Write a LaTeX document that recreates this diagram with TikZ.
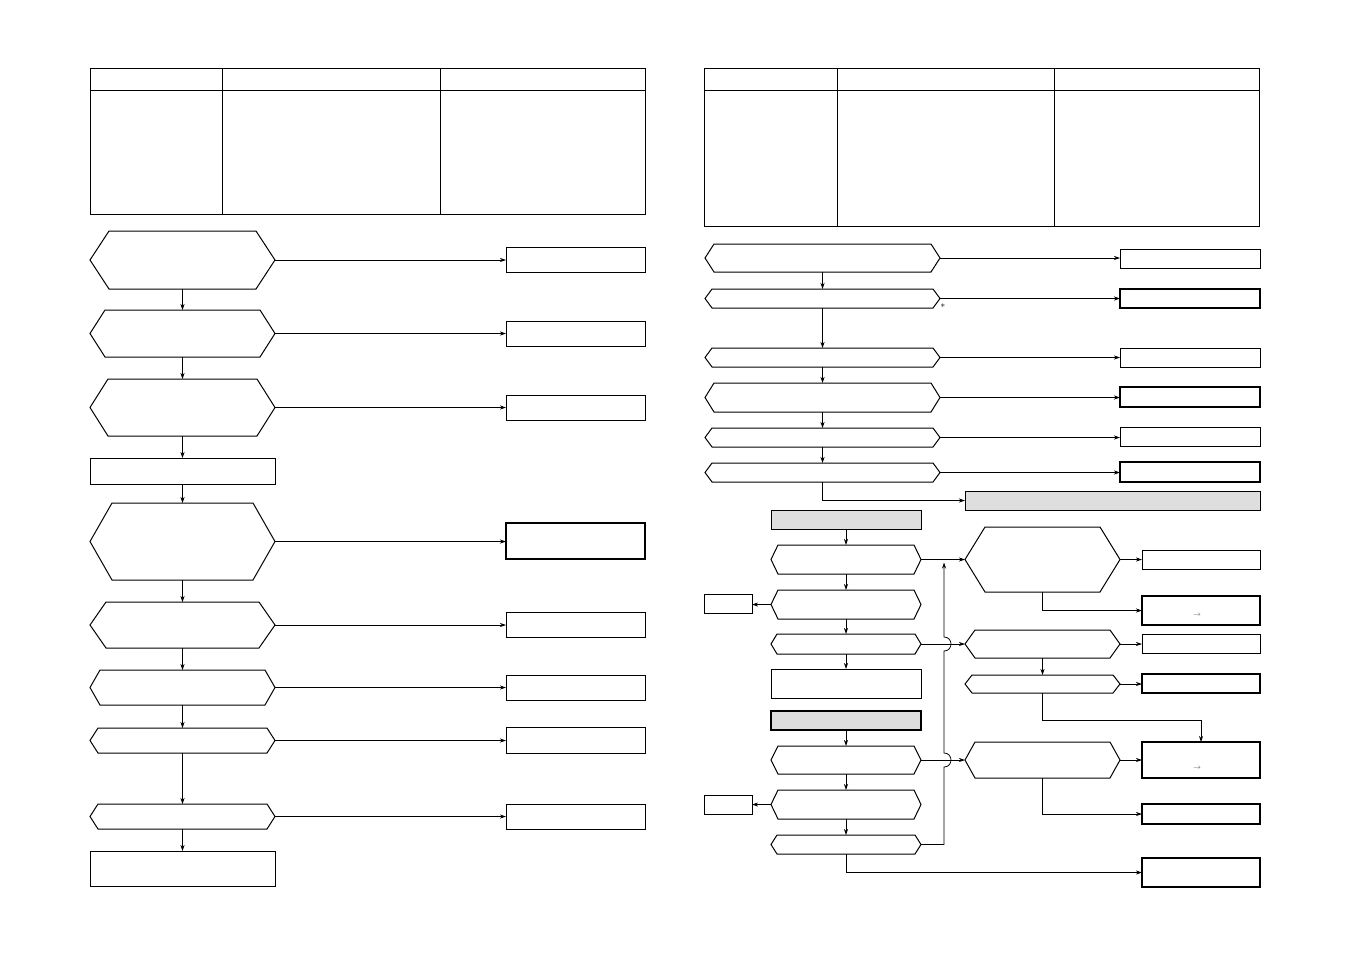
\documentclass[tikz,border=0pt]{standalone}
\usetikzlibrary{arrows.meta,calc}
\tikzset{
  shapeline/.style={line width=1.0pt},
  conn/.style={line width=0.75pt,-{Stealth[length=6pt,width=4pt]}},
  anchorbox/.style={rectangle,inner sep=0pt,outer sep=0pt},
  boxx/.style={rectangle,draw,line width=0.9pt,inner sep=0pt,outer sep=0pt},
  thickbox/.style={boxx,line width=2pt},
  midbox/.style={boxx,line width=1.4pt},
  graybox/.style={boxx,fill=black!13},
  tabline/.style={line width=1.0pt}
}
\newcommand{\hexa}[6]{%
  \draw[shapeline] (#2,{(#3+#5)/2}) -- ({#2+#6},#3) -- ({#4-#6},#3) -- (#4,{(#3+#5)/2}) -- ({#4-#6},#5) -- ({#2+#6},#5) -- cycle;
  \node[anchorbox,minimum width={(#4-#2)*1pt},minimum height={(#5-#3)*1pt}] (#1) at ({(#2+#4)/2},{(#3+#5)/2}) {};
}
\newcommand{\rbox}[6]{%
  \node[#6,minimum width={(#4-#2)*1pt},minimum height={(#5-#3)*1pt}] (#1) at ({(#2+#4)/2},{(#3+#5)/2}) {};
}
\begin{document}
\begin{tikzpicture}[x=1pt,y=-1pt]
\useasboundingbox (0,0) rectangle (1351,954);
\fill[white] (0,0) rectangle (1351,954);

% ---------- tables ----------
\draw[tabline] (90,68) rectangle (645,214);
\draw[tabline] (90,90) -- (645,90) (222,68) -- (222,214) (440,68) -- (440,214);
\draw[tabline] (704,68) rectangle (1259,226);
\draw[tabline] (704,90) -- (1259,90) (837,68) -- (837,226) (1054,68) -- (1054,226);

% ---------- left column ----------
\hexa{H1}{90}{231}{275}{289}{19}
\hexa{H2}{90}{310}{275}{357}{15}
\hexa{H3}{90}{379}{275}{436}{18}
\rbox{R1}{90}{458}{275}{484}{boxx}
\hexa{H4}{90}{503}{275}{580}{22}
\hexa{H5}{90}{602}{275}{648}{16}
\hexa{H6}{90}{670}{275}{705}{10}
\hexa{H7}{90}{728}{275}{753}{8}
\hexa{H8}{90}{804}{275}{829}{8}
\rbox{R2}{90}{851}{275}{886}{boxx}

\rbox{B1}{506}{247}{645}{272}{boxx}
\rbox{B2}{506}{321}{645}{346}{boxx}
\rbox{B3}{506}{395}{645}{420}{boxx}
\rbox{B4}{506}{523}{645}{559}{thickbox}
\rbox{B5}{506}{612}{645}{637}{boxx}
\rbox{B6}{506}{675}{645}{700}{boxx}
\rbox{B7}{506}{727}{645}{753}{boxx}
\rbox{B8}{506}{804}{645}{829}{boxx}

\draw[conn] (H1.south) -- (H2.north);
\draw[conn] (H2.south) -- (H3.north);
\draw[conn] (H3.south) -- (R1.north);
\draw[conn] (R1.south) -- (H4.north);
\draw[conn] (H4.south) -- (H5.north);
\draw[conn] (H5.south) -- (H6.north);
\draw[conn] (H6.south) -- (H7.north);
\draw[conn] (H7.south) -- (H8.north);
\draw[conn] (H8.south) -- (R2.north);
\foreach \i in {1,...,8}{\draw[conn] (H\i.east) -- (H\i.east -| B\i.west);}

% ---------- right column, top ----------
\hexa{RH1}{705}{244}{940}{272}{9}
\hexa{RH2}{705}{289}{940}{308}{7}
\hexa{RH3}{705}{348}{940}{367}{7}
\hexa{RH4}{705}{383}{940}{412}{9}
\hexa{RH5}{705}{428}{940}{447}{7}
\hexa{RH6}{705}{463}{940}{482}{7}

\rbox{RB1}{1120}{249}{1260}{268}{boxx}
\rbox{RB2}{1120}{289}{1260}{308}{thickbox}
\rbox{RB3}{1120}{348}{1260}{367}{boxx}
\rbox{RB4}{1120}{387}{1260}{407}{thickbox}
\rbox{RB5}{1120}{427}{1260}{446}{boxx}
\rbox{RB6}{1120}{462}{1260}{482}{thickbox}
\rbox{GR}{965}{491}{1260}{510}{graybox}

\draw[conn] (RH1.south) -- (RH2.north);
\draw[conn] (RH2.south) -- (RH3.north);
\draw[conn] (RH3.south) -- (RH4.north);
\draw[conn] (RH4.south) -- (RH5.north);
\draw[conn] (RH5.south) -- (RH6.north);
\foreach \i in {1,...,6}{\draw[conn] (RH\i.east) -- (RH\i.east -| RB\i.west);}
\draw[conn] (RH6.south) |- (GR.west);
\node[font=\small,inner sep=0pt] (star) at (943,307) {*};

% ---------- right column, lower ----------
\rbox{G1}{771}{510}{921}{529}{graybox}
\hexa{A1}{771}{545}{921}{574}{7}
\hexa{A2}{771}{590}{921}{619}{7}
\rbox{S1}{704}{594}{752}{613}{boxx}
\hexa{A3}{771}{634}{921}{654}{6}
\rbox{A4}{771}{669}{921}{698}{boxx}
\rbox{G2}{771}{711}{921}{730}{graybox,line width=1.5pt}
\hexa{A5}{771}{746}{921}{774}{7}
\hexa{A6}{771}{790}{921}{819}{7}
\rbox{S2}{704}{795}{752}{814}{boxx}
\hexa{A7}{771}{835}{921}{854}{6}

\hexa{D1}{965}{527}{1120}{592}{20}
\hexa{D2}{965}{630}{1120}{658}{10}
\hexa{D4}{965}{675}{1120}{693}{7}
\hexa{D3}{965}{742}{1120}{778}{10}

\rbox{C1}{1142}{550}{1260}{569}{boxx}
\rbox{C2}{1142}{596}{1260}{625}{thickbox}
\rbox{C3}{1142}{634}{1260}{653}{boxx}
\rbox{C4}{1142}{674}{1260}{693}{midbox}
\rbox{C5}{1142}{742}{1260}{778}{thickbox}
\rbox{C6}{1142}{804}{1260}{824}{midbox}
\rbox{C7}{1142}{858}{1260}{887}{thickbox}
\node[font=\scriptsize,inner sep=0pt,text=black!70] (ar1) at (1197,615) {$\rightarrow$};
\node[font=\scriptsize,inner sep=0pt,text=black!70] (ar2) at (1197,768) {$\rightarrow$};

\draw[conn] (G1.south) -- (A1.north);
\draw[conn] (A1.south) -- (A2.north);
\draw[conn] (A2.south) -- (A3.north);
\draw[conn] (A3.south) -- (A4.north);
\draw[conn] (G2.south) -- (A5.north);
\draw[conn] (A5.south) -- (A6.north);
\draw[conn] (A6.south) -- (A7.north);
\draw[conn] (A2.west) -- (A2.west -| S1.east);
\draw[conn] (A6.west) -- (A6.west -| S2.east);

\draw[conn] (A1.east) -- (D1.west);
\draw[conn] (D1.east) -- (D1.east -| C1.west);
\draw[conn] (D1.south) |- (C2.west);
\draw[conn] (A3.east) -- (D2.west);
\draw[conn] (D2.east) -- (D2.east -| C3.west);
\draw[conn] (D2.south) -- (D4.north);
\draw[conn] (D4.east) -- (D4.east -| C4.west);
\coordinate (j1) at (1201,720);
\draw[conn] (D4.south) |- (j1) -- (C5.north);
\draw[conn] (A5.east) -- (D3.west);
\draw[conn] (D3.east) -- (D3.east -| C5.west);
\draw[conn] (D3.south) |- (C6.west);
\draw[conn] (A7.south) |- (C7.west);

\coordinate (jx) at (944,0);
\draw[conn] (A7.east) -- (A7.east -| jx)
  -- ($(A5.east -| jx)+(0,7)$) to[out=0,in=0,looseness=1.7] ($(A5.east -| jx)+(0,-7)$)
  -- ($(A3.east -| jx)+(0,7)$) to[out=0,in=0,looseness=1.7] ($(A3.east -| jx)+(0,-7)$)
  -- ($(A1.east -| jx)+(0,3)$);
\end{tikzpicture}
\end{document}
